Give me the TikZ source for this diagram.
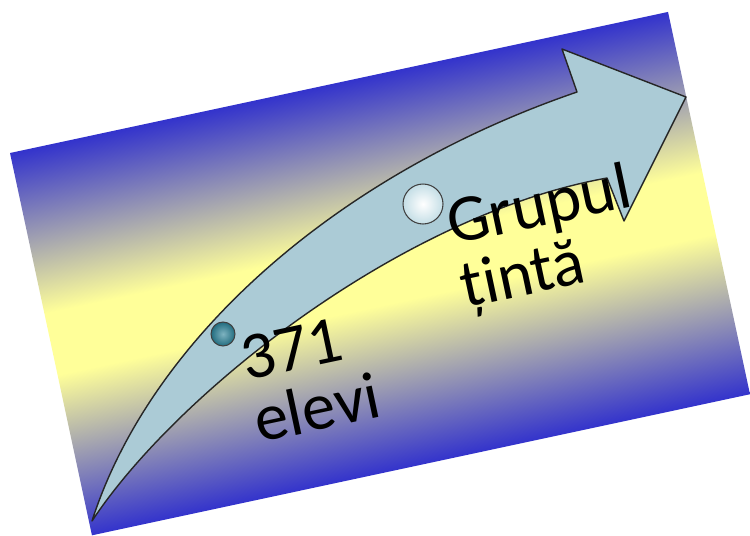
\documentclass[tikz,border=0pt]{standalone}
\usepackage{xcolor}
\usepackage{fontspec}
\setmainfont{Carlito}
\usepackage{tikz}
\usetikzlibrary{positioning, calc, shapes.geometric}
\definecolor{bgblue}{RGB}{51,51,204}
\definecolor{bgyellow}{RGB}{255,255,153}
\definecolor{arrowblue}{RGB}{171,203,214}
\definecolor{bubblelight}{RGB}{196,222,230}
\definecolor{bubbleteal}{RGB}{40,128,150}
\pgfdeclareverticalshading{slidebg}{100bp}{color(0bp)=(bgblue); color(25bp)=(bgblue); color(46bp)=(bgyellow); color(54bp)=(bgyellow); color(75bp)=(bgblue); color(100bp)=(bgblue)}
\tikzset{
  bigarrow/.style={fill=arrowblue, draw=black!85, line width=0.8pt, line join=round},
  bubble/.style={circle, draw=black!75, line width=0.6pt, inner sep=0pt},
  lbl/.style={font=\fontsize{38}{42}\selectfont, rotate=12, anchor=base west, inner sep=0pt, text=black},
}

\begin{document}
\begin{tikzpicture}[x=0.02cm, y=-0.02cm]
  \useasboundingbox (0,0) rectangle (750,535);

  % Tilted background card
  \begin{scope}[transform canvas={shift={(10,153)}, rotate=12.1}]
    \shade[shading=slidebg] (0,0) rectangle (673,391);
  \end{scope}

  % Curved arrow
  \draw[bigarrow] (92,521) .. controls (150,340) and (335,175) .. (577,92)
    -- (562,49) -- (686,97) -- (624,221) -- (607,178)
    .. controls (400,215) and (175,395) .. (92,521) -- cycle;

  % Bubbles on the arrow
  \node[bubble, minimum size=0.8cm, inner color=white, outer color=bubblelight] (bubbleTop) at (423,204) {};
  \node[bubble, minimum size=0.48cm, inner color=bubbleteal!60!white, outer color=bubbleteal!85!black] (bubbleLow) at (223,334) {};

  % Labels
  \node[lbl] (grupul) at (452,245) {Grupul};
  \node[lbl] (tinta) at (465,308) {țintă};
  \node[lbl] (nr) at (246,381) {371};
  \node[lbl] (elevi) at (259,443) {elevi};
\end{tikzpicture}
\end{document}
